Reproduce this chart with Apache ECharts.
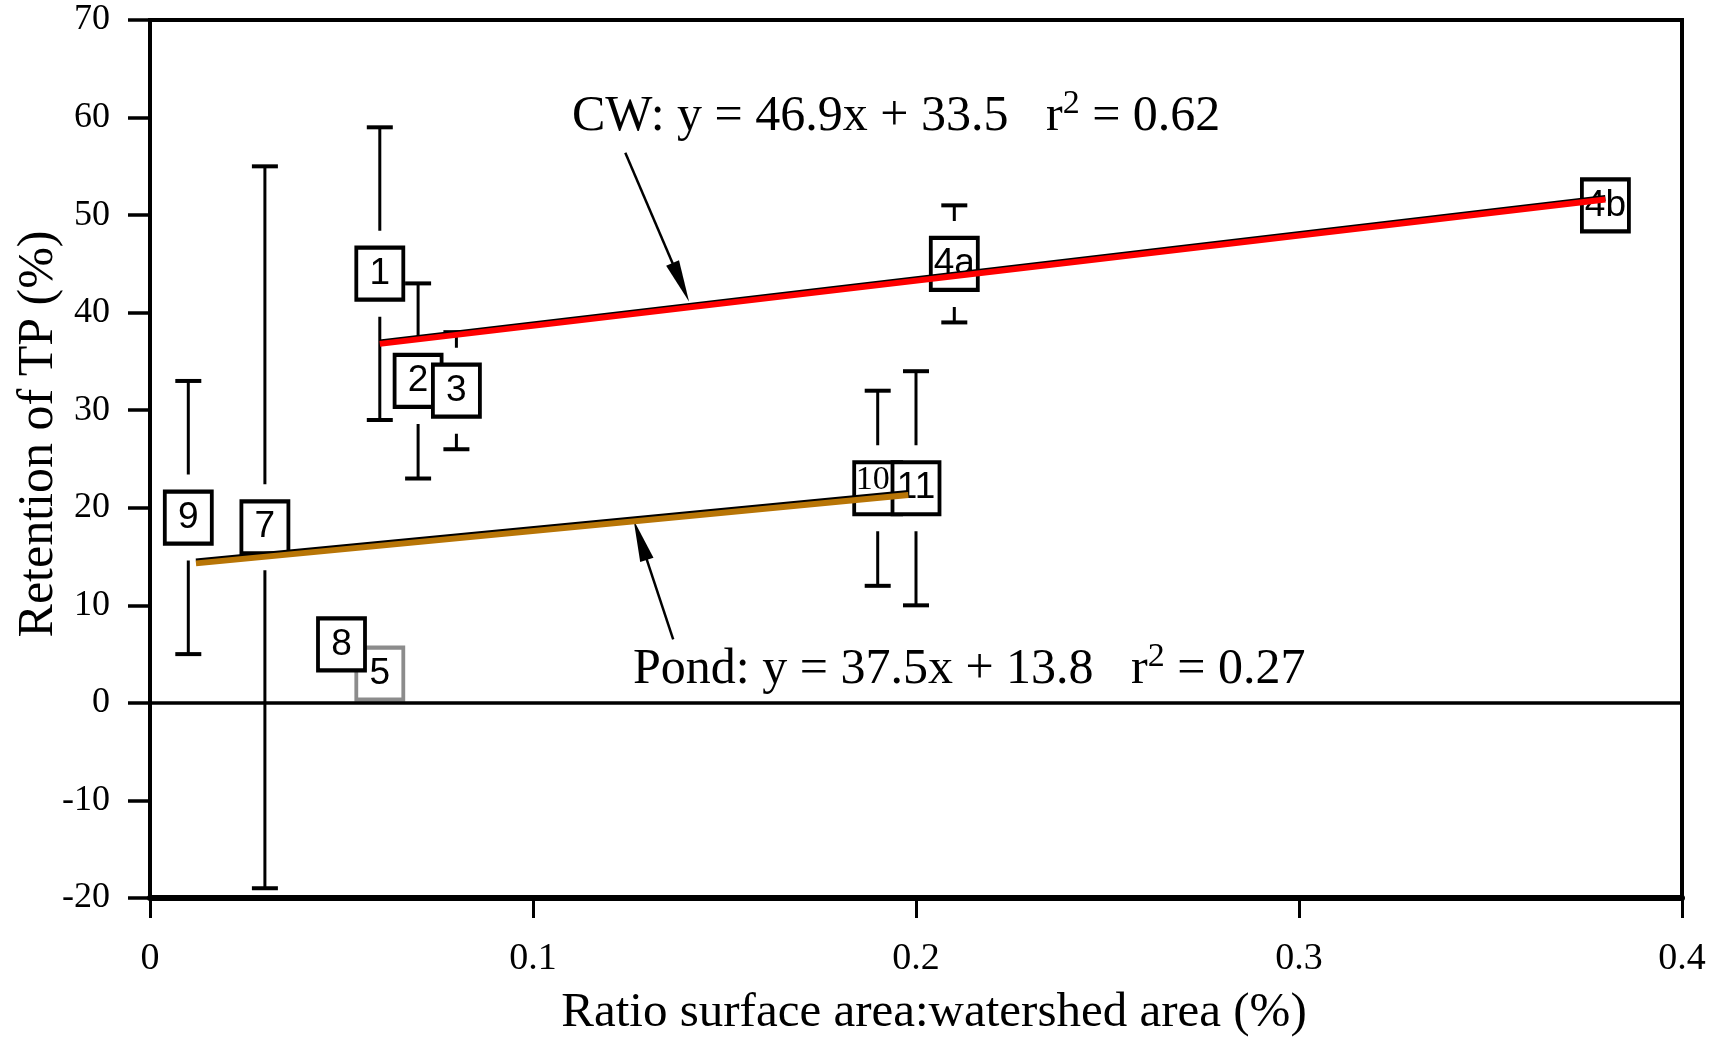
<!DOCTYPE html>
<html>
<head>
<meta charset="utf-8">
<script src="https://cdn.jsdelivr.net/npm/echarts@6/dist/echarts.min.js"></script>
<style>
  html, body { margin: 0; padding: 0; background: #fff; }
  #chart { width: 1711px; height: 1039px; }
</style>
</head>
<body>
<div id="chart"></div>
<script>
// site labels and values
const ids = ['1', '2', '3', '4a', '4b', '5', '7', '8', '9', '10', '11'];
const ratio = [0.06, 0.07, 0.08, 0.21, 0.38, 0.06, 0.03, 0.05, 0.01, 0.19, 0.20];
const retention = [44, 33, 32, 45, 51, 3, 18, 6, 19, 22, 22];
const errLow = [29, 23, 26, 39, null, null, -19, null, 5, 12, 10];
const errHigh = [59, 43, 38, 51, null, null, 55, null, 33, 32, 34];
const greySites = ['5'];

// fitted lines (end points)
const cwFitX = [0.06, 0.38];
const cwFitY = [36.8, 51.6];
const pondFitX = [0.012, 0.198];
const pondFitY = [14.3, 21.3];

// tick labels
const xTickLabels = ['0', '0.1', '0.2', '0.3', '0.4'];
const yTickLabels = ['-20', '-10', '0', '10', '20', '30', '40', '50', '60', '70'];

// arrow annotations [tail, head] in data units
const cwArrow = [[0.1241, 56.4], [0.1386, 43.1]];
const pondArrow = [[0.1366, 6.5], [0.128, 16.7]];

const serif = 'Liberation Serif, Times New Roman, serif';
const sans = 'Liberation Sans, Arial, sans-serif';

function initChart() {
  const chart = echarts.init(document.getElementById('chart'));

  const pointData = ids.map((id, i) => ({
    name: id,
    value: [ratio[i], retention[i]],
    itemStyle: greySites.includes(id) ? { borderColor: '#8c8c8c' } : undefined,
    label: id === '10' ? { fontFamily: serif, fontSize: 34, offset: [-5, -8] } : undefined
  }));

  const errData = [];
  ids.forEach((id, i) => {
    if (errLow[i] !== null) errData.push([ratio[i], errLow[i], errHigh[i]]);
  });

  const supText = {
    a: { fontFamily: serif, fontSize: 50, lineHeight: 60, color: '#000' },
    s: { fontFamily: serif, fontSize: 34, lineHeight: 34, verticalAlign: 'top', color: '#000' }
  };

  const option = {
    backgroundColor: '#fff',
    animation: false,
    grid: {
      left: 150, right: 29, top: 20, bottom: 141,
      outerBoundsMode: 'none',
      containLabel: false,
      show: true, borderColor: '#000', borderWidth: 4
    },
    xAxis: {
      type: 'value',
      min: 0, max: 0.4, interval: 0.1,
      name: 'Ratio surface area:watershed area (%)',
      nameLocation: 'middle',
      nameGap: 91,
      nameTextStyle: { fontFamily: serif, fontSize: 49, color: '#000', padding: [0, 0, 0, 36] },
      axisLine: { onZero: false, lineStyle: { color: '#000', width: 6 } },
      axisTick: { length: 20, lineStyle: { color: '#000', width: 3 } },
      axisLabel: {
        margin: 42, fontFamily: serif, fontSize: 38, color: '#000',
        formatter: (v, i) => xTickLabels[i]
      },
      splitLine: { show: false }
    },
    yAxis: {
      type: 'value',
      min: -20, max: 70, interval: 10,
      name: 'Retention of TP (%)',
      nameLocation: 'middle',
      nameGap: 86,
      nameMoveOverlap: false,
      nameTextStyle: { fontFamily: serif, fontSize: 50, color: '#000', padding: [0, 0, 0, 50] },
      axisLine: { onZero: false, lineStyle: { color: '#000', width: 4 } },
      axisTick: { length: 22, lineStyle: { color: '#000', width: 3.5 } },
      axisLabel: {
        margin: 40, fontFamily: serif, fontSize: 36, color: '#000',
        formatter: (v, i) => yTickLabels[i]
      },
      splitLine: { show: false }
    },
    series: [
      {
        // error bars
        name: 'range',
        type: 'custom',
        z: 1,
        silent: true,
        data: errData,
        renderItem: function(params, api) {
          const x = api.value(0);
          const lo = api.coord([x, api.value(1)]);
          const hi = api.coord([x, api.value(2)]);
          const cap = 13;
          const st = { stroke: '#000', lineWidth: 3 };
          const capSt = { stroke: '#000', lineWidth: 4 };
          return {
            type: 'group',
            children: [
              { type: 'line', shape: { x1: lo[0], y1: lo[1], x2: hi[0], y2: hi[1] }, style: st },
              { type: 'line', shape: { x1: lo[0] - cap, y1: lo[1], x2: lo[0] + cap, y2: lo[1] }, style: capSt },
              { type: 'line', shape: { x1: hi[0] - cap, y1: hi[1], x2: hi[0] + cap, y2: hi[1] }, style: capSt }
            ]
          };
        }
      },
      {
        // white space around the boxes that breaks the error bars
        name: 'pad',
        type: 'scatter',
        z: 2,
        silent: true,
        symbol: 'rect',
        symbolSize: [50, 86],
        itemStyle: { color: '#fff', opacity: 1 },
        data: ids.map((id, i) => [ratio[i], retention[i]])
      },
      {
        // y = 0 reference line
        name: 'zero',
        type: 'line',
        z: 3,
        silent: true,
        data: [],
        markLine: {
          silent: true,
          symbol: 'none',
          label: { show: false },
          lineStyle: { color: '#000', width: 3.5, type: 'solid' },
          data: [{ yAxis: 0 }]
        }
      },
      {
        name: 'sites',
        type: 'scatter',
        z: 4,
        symbol: 'rect',
        symbolSize: [47, 52],
        itemStyle: { color: '#fff', borderColor: '#000', borderWidth: 4, opacity: 1 },
        label: {
          show: true,
          position: 'inside',
          formatter: '{b}',
          fontFamily: sans,
          fontSize: 37,
          color: '#000'
        },
        data: pointData
      },
      {
        name: 'CW',
        type: 'line',
        z: 5,
        symbol: 'none',
        silent: true,
        lineStyle: { color: '#ff0000', width: 6, shadowColor: '#000', shadowBlur: 0, shadowOffsetY: -1.5 },
        data: cwFitX.map((x, i) => [x, cwFitY[i]]),
        markLine: {
          silent: true,
          symbol: ['none', 'triangle'],
          symbolSize: [14, 42],
          label: { show: false },
          lineStyle: { color: '#000', width: 2.5, type: 'solid' },
          data: [[{ coord: cwArrow[0] }, { coord: cwArrow[1] }]]
        }
      },
      {
        name: 'Pond',
        type: 'line',
        z: 5,
        symbol: 'none',
        silent: true,
        lineStyle: { color: '#b87506', width: 6, shadowColor: '#000', shadowBlur: 0, shadowOffsetY: -2 },
        data: pondFitX.map((x, i) => [x, pondFitY[i]]),
        markLine: {
          silent: true,
          symbol: ['none', 'triangle'],
          symbolSize: [14, 42],
          label: { show: false },
          lineStyle: { color: '#000', width: 2.5, type: 'solid' },
          data: [[{ coord: pondArrow[0] }, { coord: pondArrow[1] }]]
        }
      }
    ],
    graphic: [
      {
        type: 'text',
        x: 572, y: 117, z: 10,
        style: {
          text: '{a|CW: y = 46.9x + 33.5   r}{s|2}{a| = 0.62}',
          align: 'left',
          verticalAlign: 'middle',
          rich: supText
        }
      },
      {
        type: 'text',
        x: 633, y: 670, z: 10,
        style: {
          text: '{a|Pond: y = 37.5x + 13.8   r}{s|2}{a| = 0.27}',
          align: 'left',
          verticalAlign: 'middle',
          rich: supText
        }
      }
    ]
  };

  chart.setOption(option);
  window.addEventListener('resize', function() {
    chart.resize();
  });
}

if (document.readyState === 'loading') {
  document.addEventListener('DOMContentLoaded', initChart);
} else {
  initChart();
}
</script>
</body>
</html>
